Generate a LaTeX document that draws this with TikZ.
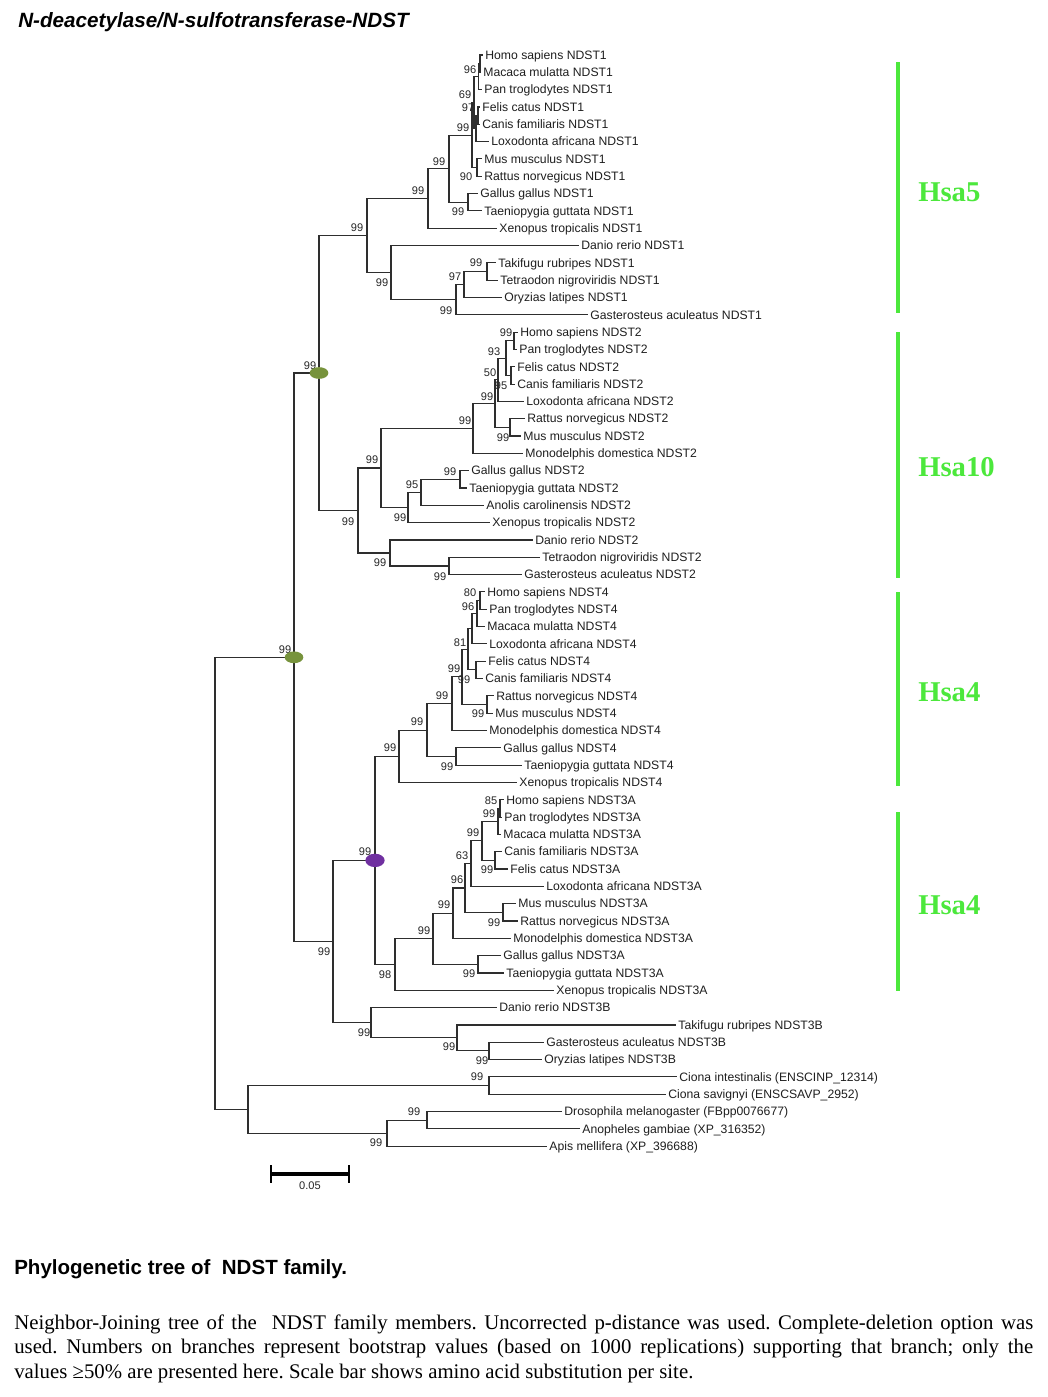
\documentclass[tikz,border=0pt]{standalone}
\usepackage{fontspec}
\setmainfont{Liberation Serif}
\newfontfamily\arialf{Liberation Sans}
\usetikzlibrary{shapes.geometric}
\frenchspacing
\definecolor{brc}{HTML}{2E2E2E}
\definecolor{nodegreen}{HTML}{77933C}
\definecolor{nodepurple}{HTML}{7030A0}
\definecolor{barg}{RGB}{76,232,60}
\begin{document}
\frenchspacing
\begin{tikzpicture}[x=0.75pt,y=-0.75pt,
  br/.style={draw=brc,line width=0.85pt},
  leaflab/.style={anchor=base west,yshift=-3.2pt,inner xsep=1.6pt,inner ysep=0pt,text=black!88,font=\arialf\fontsize{9.15}{10}\selectfont},
  bslab/.style={inner sep=0pt,text=black!85,font=\arialf\fontsize{8.3}{9}\selectfont},
  hsalab/.style={anchor=west,inner sep=0pt,text=barg,font=\bfseries\fontsize{21.5}{24}\selectfont},
  hsabar/.style={draw=barg,line width=3pt},
  greennode/.style={ellipse,fill=nodegreen,draw=none,minimum width=14pt,minimum height=8.8pt,inner sep=0pt},
  purplenode/.style={ellipse,fill=nodepurple,draw=none,minimum width=14.5pt,minimum height=10pt,inner sep=0pt}]
\useasboundingbox (0,0) rectangle (1047,1397);
\fill[white] (0,0) rectangle (1047,1397);

% title
\node[anchor=base west,inner sep=0pt,font=\arialf\bfseries\itshape\fontsize{15.5}{18}\selectfont] (title) at (18,27) {N-deacetylase/N-sulfotransferase-NDST};

% leaves
\foreach \i/\x/\t in {
1/483/Homo sapiens NDST1,
2/481/Macaca mulatta NDST1,
3/482/Pan troglodytes NDST1,
4/480/Felis catus NDST1,
5/480/Canis familiaris NDST1,
6/489/Loxodonta africana NDST1,
7/482/Mus musculus NDST1,
8/482/Rattus norvegicus NDST1,
9/478/Gallus gallus NDST1,
10/482/Taeniopygia guttata NDST1,
11/497/Xenopus tropicalis NDST1,
12/579/Danio rerio NDST1,
13/496/Takifugu rubripes NDST1,
14/498/Tetraodon nigroviridis NDST1,
15/502/Oryzias latipes NDST1,
16/588/Gasterosteus aculeatus NDST1,
17/518/Homo sapiens NDST2,
18/517/Pan troglodytes NDST2,
19/515/Felis catus NDST2,
20/515/Canis familiaris NDST2,
21/524/Loxodonta africana NDST2,
22/525/Rattus norvegicus NDST2,
23/521/Mus musculus NDST2,
24/523/Monodelphis domestica NDST2,
25/469/Gallus gallus NDST2,
26/467/Taeniopygia guttata NDST2,
27/484/Anolis carolinensis NDST2,
28/490/Xenopus tropicalis NDST2,
29/533/Danio rerio NDST2,
30/540/Tetraodon nigroviridis NDST2,
31/522/Gasterosteus aculeatus NDST2,
32/485/Homo sapiens NDST4,
33/487/Pan troglodytes NDST4,
34/485/Macaca mulatta NDST4,
35/487/Loxodonta africana NDST4,
36/486/Felis catus NDST4,
37/483/Canis familiaris NDST4,
38/494/Rattus norvegicus NDST4,
39/493/Mus musculus NDST4,
40/487/Monodelphis domestica NDST4,
41/501/Gallus gallus NDST4,
42/522/Taeniopygia guttata NDST4,
43/517/Xenopus tropicalis NDST4,
44/504/Homo sapiens NDST3A,
45/502/Pan troglodytes NDST3A,
46/501/Macaca mulatta NDST3A,
47/502/Canis familiaris NDST3A,
48/508/Felis catus NDST3A,
49/544/Loxodonta africana NDST3A,
50/516/Mus musculus NDST3A,
51/518/Rattus norvegicus NDST3A,
52/511/Monodelphis domestica NDST3A,
53/501/Gallus gallus NDST3A,
54/504/Taeniopygia guttata NDST3A,
55/554/Xenopus tropicalis NDST3A,
56/497/Danio rerio NDST3B,
57/676/Takifugu rubripes NDST3B,
58/544/Gasterosteus aculeatus NDST3B,
59/542/Oryzias latipes NDST3B,
60/677/Ciona intestinalis (ENSCINP\_12314),
61/666/Ciona savignyi (ENSCSAVP\_2952),
62/562/Drosophila melanogaster (FBpp0076677),
63/580/Anopheles gambiae (XP\_316352),
64/547/Apis mellifera (XP\_396688)}
{
  \coordinate (L\i) at (\x,{55+(\i-1)*17.32});
  \node[leaflab] (T\i) at (L\i) {\t};
}

% internal nodes
\coordinate (n1a) at (480,63.65);
\coordinate (n1b) at (478.5,76.6);
\coordinate (n1d) at (478,115.65);
\coordinate (n1e) at (476,128.6);
\coordinate (n1c) at (474,102.6);
\coordinate (n1f) at (477,167.55);
\coordinate (n1g) at (472,135.1);
\coordinate (n1k) at (468,202.25);
\coordinate (n1h) at (449,168.7);
\coordinate (n1i) at (428,198.45);
\coordinate (n1m) at (487,271.5);
\coordinate (n1n) at (464,284.5);
\coordinate (n1o) at (456,299.65);
\coordinate (n1p) at (391,272.6);
\coordinate (n1j) at (367,235.5);
\coordinate (n2a) at (514,340.75);
\coordinate (n2b) at (511,375.45);
\coordinate (n2c) at (506,358.1);
\coordinate (n2d) at (498,379.75);
\coordinate (n2e) at (510,427.35);
\coordinate (n2f) at (495,403.55);
\coordinate (n2g) at (473,428.5);
\coordinate (n2h) at (460,479.35);
\coordinate (n2i) at (421,492.3);
\coordinate (n2j) at (408,507.45);
\coordinate (n2k) at (381,468);
\coordinate (n2l) at (449,565.95);
\coordinate (n2m) at (390,553);
\coordinate (n2n) at (358,510.5);
\coordinate (N12) at (319,373);
\coordinate (n4a) at (480,600.55);
\coordinate (n4b) at (477,613.6);
\coordinate (n4c) at (472,628.75);
\coordinate (n4d) at (476,669.85);
\coordinate (n4e) at (468,649.3);
\coordinate (n4f) at (487,704.5);
\coordinate (n4g) at (462,676.9);
\coordinate (n4h) at (452,703.7);
\coordinate (n4i) at (456,756.45);
\coordinate (n4j) at (427,730.1);
\coordinate (n4k) at (399,756.25);
\coordinate (n3a) at (500,808.45);
\coordinate (n3b) at (498,821.4);
\coordinate (n3c) at (495,860.35);
\coordinate (n3d) at (482,840.9);
\coordinate (n3e) at (471,863.65);
\coordinate (n3f) at (503,912.35);
\coordinate (n3g) at (465,888);
\coordinate (n3h) at (453,913.15);
\coordinate (n3i) at (478,964.3);
\coordinate (n3j) at (433,938.7);
\coordinate (n3k) at (395,964.5);
\coordinate (N34) at (375,860.4);
\coordinate (n3l) at (489,1050.9);
\coordinate (n3m) at (457,1037.9);
\coordinate (n3n) at (371,1022.75);
\coordinate (N3) at (333,941.6);
\coordinate (Nv) at (294,657.3);
\coordinate (nc) at (489,1085.55);
\coordinate (ni1) at (427,1120.15);
\coordinate (ni2) at (387,1133.2);
\coordinate (no) at (248,1109.4);
\coordinate (root) at (215,883.35);

% branches
\foreach \p/\c in {
n1a/L1,n1a/L2,n1b/n1a,n1b/L3,n1d/L4,n1d/L5,n1e/n1d,n1e/L6,n1c/n1b,n1c/n1e,
n1f/L7,n1f/L8,n1g/n1c,n1g/n1f,n1k/L9,n1k/L10,n1h/n1g,n1h/n1k,n1i/n1h,n1i/L11,
n1m/L13,n1m/L14,n1n/n1m,n1n/L15,n1o/n1n,n1o/L16,n1p/L12,n1p/n1o,n1j/n1i,n1j/n1p,
n2a/L17,n2a/L18,n2b/L19,n2b/L20,n2c/n2a,n2c/n2b,n2d/n2c,n2d/L21,n2e/L22,n2e/L23,
n2f/n2d,n2f/n2e,n2g/n2f,n2g/L24,n2h/L25,n2h/L26,n2i/n2h,n2i/L27,n2j/n2i,n2j/L28,
n2k/n2g,n2k/n2j,n2l/L30,n2l/L31,n2m/L29,n2m/n2l,n2n/n2k,n2n/n2m,N12/n1j,N12/n2n,
n4a/L32,n4a/L33,n4b/n4a,n4b/L34,n4c/n4b,n4c/L35,n4d/L36,n4d/L37,n4e/n4c,n4e/n4d,
n4f/L38,n4f/L39,n4g/n4e,n4g/n4f,n4h/n4g,n4h/L40,n4i/L41,n4i/L42,n4j/n4h,n4j/n4i,
n4k/n4j,n4k/L43,
n3a/L44,n3a/L45,n3b/n3a,n3b/L46,n3c/L47,n3c/L48,n3d/n3b,n3d/n3c,n3e/n3d,n3e/L49,
n3f/L50,n3f/L51,n3g/n3e,n3g/n3f,n3h/n3g,n3h/L52,n3i/L53,n3i/L54,n3j/n3h,n3j/n3i,
n3k/n3j,n3k/L55,N34/n4k,N34/n3k,
n3l/L58,n3l/L59,n3m/L57,n3m/n3l,n3n/L56,n3n/n3m,N3/N34,N3/n3n,Nv/N12,Nv/N3,
nc/L60,nc/L61,ni1/L62,ni1/L63,ni2/ni1,ni2/L64,no/nc,no/ni2,root/Nv,root/no}
{ \draw[br] (\p) |- (\c); }

% bootstrap values
\foreach \x/\y/\v [count=\k] in {
470/70/96,465/95/69,468/108/97,463/128/99,439/162/99,466/177/90,418/191/99,458/212/99,
357/228/99,476/263/99,455/277/97,382/283/99,446/311/99,
506/333/99,494/352/93,490/373/50,501/386/95,487/397/99,465/421/99,503/438/99,
372/460/99,450/472/99,412/485/95,348/522/99,400/518/99,380/563/99,440/577/99,310/366/99,
470/593/80,468/607/96,460/643/81,454/669/99,464/680/99,442/696/99,478/714/99,
417/722/99,390/748/99,447/767/99,285/650/99,
491/801/85,489/814/99,473/833/99,462/856/63,487/870/99,457/880/96,444/905/99,
494/923/99,424/931/99,469/974/99,385/975/98,365/852/99,324/952/99,
364/1033/99,449/1047/99,482/1061/99,
477/1077/99,414/1112/99,376/1143/99}
{ \node[bslab] (b\k) at (\x,\y) {\v}; }

% marked nodes
\node[greennode] (m1) at (N12) {};
\node[greennode] (m2) at (Nv) {};
\node[purplenode] (m3) at (N34) {};

% scale bar
\coordinate (sbl) at (271,1174);
\coordinate (sbr) at (349,1174);
\draw[black,line width=2.8pt] (sbl) -- (sbr);
\draw[black,line width=2.2pt] ([yshift=-6.5]sbl) -- ([yshift=6.5]sbl);
\draw[black,line width=2.2pt] ([yshift=-6.5]sbr) -- ([yshift=6.5]sbr);
\node[bslab] (sblab) at (310,1186) {0.05};

% chromosome bars
\draw[hsabar] (898,62) -- (898,313);
\draw[hsabar] (898,332) -- (898,578);
\draw[hsabar] (898,592) -- (898,786);
\draw[hsabar] (898,812) -- (898,991);
\node[hsalab] (h1) at (918,192) {Hsa5};
\node[hsalab] (h2) at (918,467) {Hsa10};
\node[hsalab] (h3) at (918,692) {Hsa4};
\node[hsalab] (h4) at (918,905) {Hsa4};

% caption
\node[anchor=base west,inner sep=0pt,font=\arialf\bfseries\fontsize{15.4}{18}\selectfont] (cap) at (14,1274) {Phylogenetic tree of\ \ NDST family.};
\node[anchor=base west,inner sep=0pt,font=\fontsize{15.6}{18}\selectfont] (p1) at (14,1329) {\makebox[764.25pt][s]{Neighbor-Joining tree of the\ \ NDST family members. Uncorrected p-distance was used. Complete-deletion option was}};
\node[anchor=base west,inner sep=0pt,font=\fontsize{15.6}{18}\selectfont] (p2) at (14,1353.5) {\makebox[764.25pt][s]{used. Numbers on branches represent bootstrap values (based on 1000 replications) supporting that branch; only the}};
\node[anchor=base west,inner sep=0pt,font=\fontsize{15.6}{18}\selectfont] (p3) at (14,1378) {values ≥50\% are presented here. Scale bar shows amino acid substitution per site.};
\end{tikzpicture}
\end{document}
